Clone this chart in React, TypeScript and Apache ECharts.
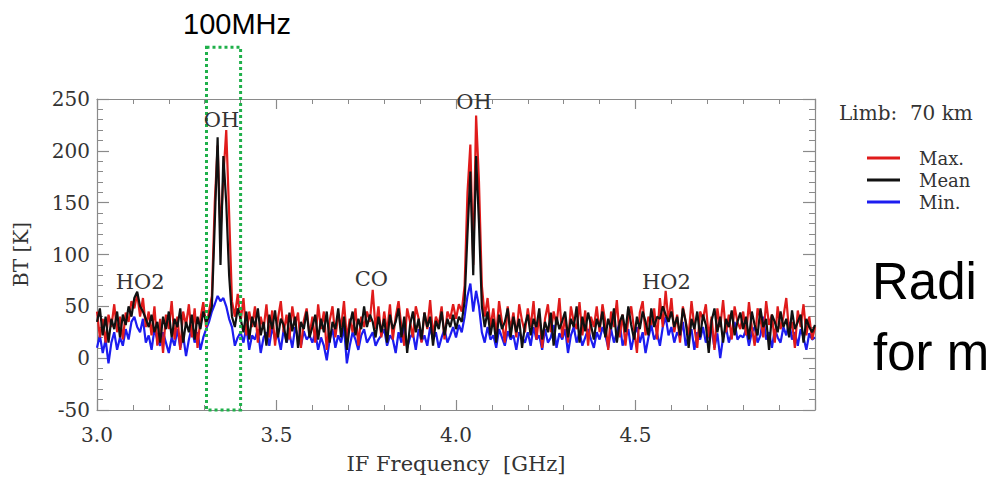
import React, { useEffect, useRef } from "react";
import * as echarts from "echarts";

// Frequency grid of the spectra (GHz): first channel and channel spacing
const FREQ_START = 3.0;
const FREQ_STEP = 0.008;

// Brightness temperature [K], one row = 0.2 GHz (25 channels), last value at 5.0 GHz
const maxK = [
  45, 20, 38, 15, 42, 30, 52, 25, 40, 18, 44, 35, 55, 48, 62, 40, 58, 30, 45, 22, 50, 12, 38, 5, 42,
  28, 55, 18, 40, 8, 45, 32, 52, 20, 48, 10, 38, 54, 30, 45, 60, 150, 205, 120, 175, 220, 140, 55, 40, 62,
  35, 58, 22, 45, 30, 50, 15, 40, 28, 52, 20, 46, 12, 38, 55, 25, 42, 18, 50, 32, 44, 10, 36, 48, 22,
  40, 15, 52, 28, 45, 8, 36, 50, 20, 42, 30, 55, 18, 38, 25, 48, 12, 40, 30, 45, 35, 66, 28, 50, 20,
  45, 25, 52, 18, 40, 55, 30, 12, 48, 35, 20, 50, 38, 15, 44, 28, 56, 22, 40, 32, 50, 18, 45, 38, 52,
  38, 52, 45, 70, 160, 206, 90, 234, 170, 70, 40, 58, 30, 48, 22, 55, 35, 15, 50, 28, 44, 20, 52, 36, 25,
  48, 30, 55, 18, 42, 10, 38, 52, 25, 45, 32, 58, 20, 40, 15, 50, 35, 28, 54, 22, 46, 12, 40, 30, 50,
  25, 52, 35, 8, 45, 30, 56, 20, 42, 12, 38, 50, 28, 5, 44, 55, 22, 40, 32, 48, 18, 58, 30, 65, 35,
  58, 25, 42, 15, 50, 35, 22, 55, 30, 10, 45, 38, 52, 20, 40, 8, 48, 30, 56, 25, 42, 18, 50, 35, 28,
  45, 22, 54, 30, 12, 48, 38, 20, 55, 32, 42, 15, 50, 28, 40, 58, 25, 35, 10, 46, 30, 52, 22, 40, 18,
  30,
];

const meanK = [
  35, 48, 22, 40, 15, 38, 28, 45, 20, 42, 32, 50, 40, 58, 64, 50, 45, 38, 30, 42, 25, 35, 15, 40, 28,
  45, 20, 38, 30, 48, 15, 35, 25, 42, 18, 40, 28, 45, 35, 40, 50, 130, 213, 90, 195, 150, 80, 40, 30, 48,
  38, 25, 45, 18, 40, 30, 48, 22, 35, 12, 42, 28, 46, 20, 38, 32, 15, 44, 26, 40, 10, 35, 28, 45, 20,
  30, 42, 18, 38, 25, 45, 15, 35, 28, 48, 20, 40, 8, 32, 45, 22, 38, 28, 50, 30, 42, 35, 20, 40, 25,
  38, 15, 42, 28, 35, 48, 20, 40, 5, 32, 45, 25, 38, 18, 44, 30, 40, 12, 36, 28, 45, 22, 38, 30, 42,
  28, 40, 35, 55, 120, 180, 80, 195, 130, 50, 30, 45, 22, 38, 15, 42, 28, 35, 48, 20, 40, 25, 38, 10, 32,
  42, 22, 38, 30, 48, 18, 35, 25, 44, 12, 40, 28, 36, 45, 20, 38, 30, 50, 15, 40, 26, 44, 32, 18, 38,
  30, 45, 20, 38, 28, 48, 15, 35, 42, 25, 50, 32, 18, 40, 28, 45, 35, 22, 48, 30, 40, 38, 50, 42, 35,
  45, 30, 40, 22, 48, 35, 10, 38, 28, 45, 20, 42, 32, 5, 36, 48, 25, 40, 15, 38, 30, 46, 22, 35, 44,
  28, 40, 18, 45, 32, 22, 48, 30, 38, 8, 42, 35, 25, 45, 30, 38, 20, 46, 28, 35, 42, 15, 38, 30, 25,
  32,
];

const minK = [
  10, 22, 5, 18, -5, 15, 25, 8, 20, 12, 28, 18, 35, 40, 30, 25, 38, 15, 22, 8, 28, 18, 12, 25, 15,
  5, 20, 12, 28, 10, 22, 2, 18, 30, 15, 25, 8, 20, 28, 35, 45, 52, 60, 55, 58, 50, 38, 30, 12, 20,
  25, 15, 30, 8, 22, 18, 28, 5, 20, 25, 12, 30, 18, 22, 8, 28, 15, 24, 10, 30, 20, 12, 26, 18, 22,
  15, 25, 8, 20, 12, -2, 18, 28, 10, 22, 15, 30, -5, 12, 25, 18, 8, 22, 28, 15, 20, 25, 12, 18, 22,
  28, 12, 22, 18, 5, 25, 15, 30, 10, 20, 24, 8, 28, 16, 22, 12, 30, 18, 25, 10, 20, 28, 15, 22, 30,
  20, 32, 25, 40, 60, 72, 45, 65, 50, 25, 15, 30, 18, 22, 10, 28, 20, 12, 26, 18, 22, 8, 25, 20, 15,
  25, 12, 30, 18, 22, 8, 28, 15, 20, 32, 10, 24, 18, 28, 5, 22, 30, 15, 25, 12, 20, 28, 18, 10, 25,
  18, 30, 22, 10, 28, 15, 25, 35, 12, 20, 28, 8, 22, 30, 15, 25, 5, 20, 32, 18, 24, 12, 30, 40, 22,
  30, 15, 25, 20, 35, 12, 22, 28, 8, 25, 18, 30, 15, 22, 28, 10, 24, 0, 20, 30, 15, 25, 35, 18, 22,
  20, 28, 12, 25, 30, 15, 22, 40, 18, 25, 10, 28, 20, 15, 30, 22, 35, 18, 25, 12, 28, 20, 8, 24, 18,
  20,
];

const seriesNames = ["Max.", "Mean", "Min."];
const seriesColors = ["#e01b1b", "#111111", "#1c1cf0"];

// line identifications: [label, frequency GHz, BT K]
const lineLabels: [string, number, number][] = [
  ["HO2", 3.12, 73],
  ["OH", 3.347, 230],
  ["CO", 3.764, 76],
  ["OH", 4.05, 247],
  ["HO2", 4.586, 73],
];

// highlighted 100 MHz window [GHz] and its vertical extent [K]
const bandFreq = [3.305, 3.4];
const bandK = [-50, 300];

const SERIF = "'DejaVu Serif', 'Liberation Serif', serif";
const SANS = "'Liberation Sans', 'Noto Sans', sans-serif";
const AXIS_COLOR = "#8a8a8a";
const TEXT_COLOR = "#333333";

function toPairs(values: number[]) {
  return values.map((v, i) => [Number((FREQ_START + i * FREQ_STEP).toFixed(3)), v]);
}

export default function App() {
  const ref = useRef<HTMLDivElement>(null);

  useEffect(() => {
    if (!ref.current) return;
    const chart = echarts.init(ref.current, undefined, { renderer: "svg" });

    const xBase = {
      type: "value",
      min: 3.0,
      max: 5.0,
      interval: 0.5,
      axisLine: { show: true, onZero: false, lineStyle: { color: AXIS_COLOR, width: 1.2 } },
      axisTick: { show: true, inside: true, length: 10, lineStyle: { color: AXIS_COLOR, width: 1.2 } },
      minorTick: { show: true, splitNumber: 5, length: 5, lineStyle: { color: AXIS_COLOR, width: 1 } },
      splitLine: { show: false },
    };
    const yBase = {
      type: "value",
      min: -50,
      max: 250,
      interval: 50,
      axisLine: { show: true, onZero: false, lineStyle: { color: AXIS_COLOR, width: 1.2 } },
      axisTick: { show: true, inside: true, length: 12, lineStyle: { color: AXIS_COLOR, width: 1.2 } },
      minorTick: { show: true, splitNumber: 5, length: 6, lineStyle: { color: AXIS_COLOR, width: 1 } },
      splitLine: { show: false },
    };

    const allData = [maxK, meanK, minK];
    const zOrder = [3, 4, 2];

    chart.setOption({
      animation: false,
      backgroundColor: "#ffffff",
      grid: { left: 97, right: 175, top: 99, bottom: 67, containLabel: false },
      xAxis: [
        {
          ...xBase,
          position: "bottom",
          axisLabel: {
            formatter: (v: number) => (v > 4.99 ? "" : v.toFixed(1)),
            fontFamily: SERIF,
            fontSize: 20,
            color: TEXT_COLOR,
            margin: 15,
          },
          name: "IF Frequency  [GHz]",
          nameLocation: "middle",
          nameGap: 43,
          nameTextStyle: { fontFamily: SERIF, fontSize: 21, color: TEXT_COLOR },
        },
        { ...xBase, position: "top", axisLabel: { show: false } },
      ],
      yAxis: [
        {
          ...yBase,
          position: "left",
          axisLabel: { fontFamily: SERIF, fontSize: 20, color: TEXT_COLOR, margin: 7 },
          name: "BT [K]",
          nameLocation: "middle",
          nameGap: 66,
          nameTextStyle: { fontFamily: SERIF, fontSize: 20, color: TEXT_COLOR },
        },
        { ...yBase, position: "right", axisLabel: { show: false } },
      ],
      legend: {
        data: seriesNames,
        orient: "vertical",
        left: 862,
        top: 144,
        icon: "rect",
        itemWidth: 33,
        itemHeight: 3,
        itemGap: 4,
        textStyle: {
          fontFamily: SERIF,
          fontSize: 18,
          color: TEXT_COLOR,
          lineHeight: 18,
          padding: [0, 0, 0, 14],
        },
      },
      series: seriesNames.map((name, i) => ({
        name,
        type: "line",
        xAxisIndex: 0,
        yAxisIndex: 0,
        data: toPairs(allData[i]),
        showSymbol: false,
        symbol: "none",
        color: seriesColors[i],
        lineStyle: { color: seriesColors[i], width: 2.2 },
        z: zOrder[i],
      })),
    });

    const px = (f: number, k: number) =>
      chart.convertToPixel({ xAxisIndex: 0, yAxisIndex: 0 }, [f, k]) as number[];

    const [bx0, by0] = px(bandFreq[0], bandK[1]);
    const [bx1, by1] = px(bandFreq[1], bandK[0]);

    const textEl = (text: string, x: number, y: number, font: string, fill: string, align: string) => ({
      type: "text",
      z: 100,
      x,
      y,
      style: {
        text,
        font,
        fill,
        textAlign: align,
        textVerticalAlign: "middle",
        align,
        verticalAlign: "middle",
      },
    });

    const graphics: any[] = [
      {
        type: "rect",
        z: 100,
        shape: { x: bx0, y: by0, width: bx1 - bx0, height: by1 - by0 },
        style: { fill: "none", stroke: "#1fb04a", lineWidth: 3, lineDash: [3, 3] },
      },
      textEl("100MHz", 237, 24, `29px ${SANS}`, "#000", "center"),
      textEl("Limb:  70 km", 839, 113, `20px ${SERIF}`, TEXT_COLOR, "left"),
      textEl("Radi", 872, 281, `51px ${SANS}`, "#000", "left"),
      textEl("for m", 873, 352, `51px ${SANS}`, "#000", "left"),
    ];

    lineLabels.forEach(([label, f, k]) => {
      const [x, y] = px(f, k);
      graphics.push(textEl(label, x, y, `21px ${SERIF}`, TEXT_COLOR, "center"));
    });

    chart.setOption({ graphic: graphics });

    return () => chart.dispose();
  }, []);

  return (
    <div
      ref={ref}
      style={{ position: "fixed", left: 0, top: 0, width: 990, height: 479, background: "#fff" }}
    />
  );
}
